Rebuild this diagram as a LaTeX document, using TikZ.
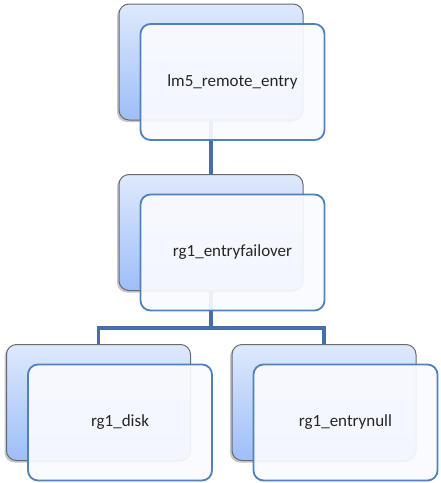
\documentclass[tikz,border=0pt]{standalone}
\usepackage{fontspec}
\setmainfont{Carlito}
\usetikzlibrary{shadows}

\definecolor{backtop}{RGB}{222,233,252}
\definecolor{backbottom}{RGB}{158,190,248}
\definecolor{backline}{RGB}{105,105,110}
\definecolor{frontline}{RGB}{79,129,189}
\definecolor{frontfill}{RGB}{250,251,255}
\definecolor{linkline}{RGB}{70,110,170}

\tikzset{
    back/.style={draw=backline, line width=1pt, rounded corners=10pt,
        minimum width=184pt, minimum height=116pt,
        top color=backtop, bottom color=backbottom,
        drop shadow={shadow xshift=-2pt, shadow yshift=-2pt, opacity=0.45}},
    front/.style={draw=frontline, line width=1.8pt, rounded corners=10pt,
        minimum width=184pt, minimum height=116pt,
        fill=frontfill, fill opacity=0.92, text opacity=1,
        font=\fontsize{17}{20}\selectfont, text=black!85},
    link/.style={draw=linkline, line width=3.2pt}
}

\begin{document}
\begin{tikzpicture}[x=1pt, y=-1pt]
    \newcommand{\dx}{21.5}
    \newcommand{\dy}{20}
    \useasboundingbox (0, 0) rectangle (441, 483);
    % Back boxes
    \foreach \i/\x/\y in {1/211/62, 2/211/232.5, 3/98.5/402.5, 4/324/402.5} {
            \node[back] (Back-\i) at (\x, \y) {};
        }

    % Connect boxes
    \coordinate (Split) at (211, 328);
    \draw[link] (Back-1.south) -- (Back-2.north);
    \draw[link] (Back-2.south) -- (Split);
    \draw[link] (Split) -| (Back-3.north);
    \draw[link] (Split) -| (Back-4.north);

    % Front boxes
    \foreach \i/\x/\y/\name in {1/211/62/lm5\_remote\_entry, 2/211/232.5/rg1\_entryfailover,
            3/98.5/402.5/rg1\_disk, 4/324/402.5/rg1\_entrynull} {
            \node[front] (Front-\i) at (\x+\dx, \y+\dy) {\name};
        }
\end{tikzpicture}
\end{document}
